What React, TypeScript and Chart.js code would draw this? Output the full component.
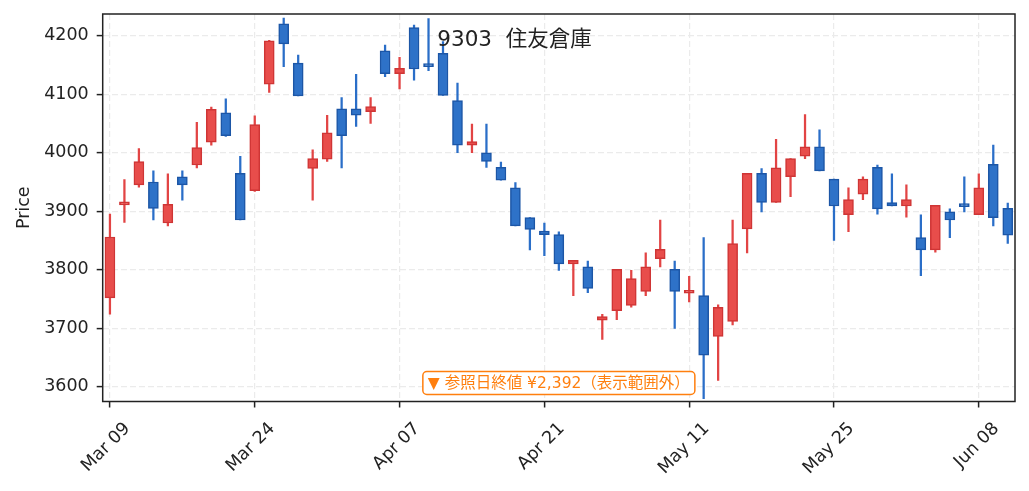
import React, { useEffect, useRef } from 'react';
import { Chart, registerables } from 'chart.js';

Chart.register(...registerables);

// trading days shown (2020, TSE calendar)
const dates = [
  'Mar 09', 'Mar 10', 'Mar 11', 'Mar 12', 'Mar 13', 'Mar 16', 'Mar 17', 'Mar 18', 'Mar 19', 'Mar 23',
  'Mar 24', 'Mar 25', 'Mar 26', 'Mar 27', 'Mar 30', 'Mar 31', 'Apr 01', 'Apr 02', 'Apr 03', 'Apr 06',
  'Apr 07', 'Apr 08', 'Apr 09', 'Apr 10', 'Apr 13', 'Apr 14', 'Apr 15', 'Apr 16', 'Apr 17', 'Apr 20',
  'Apr 21', 'Apr 22', 'Apr 23', 'Apr 24', 'Apr 27', 'Apr 28', 'Apr 30', 'May 01', 'May 07', 'May 08',
  'May 11', 'May 12', 'May 13', 'May 14', 'May 15', 'May 18', 'May 19', 'May 20', 'May 21', 'May 22',
  'May 25', 'May 26', 'May 27', 'May 28', 'May 29', 'Jun 01', 'Jun 02', 'Jun 03', 'Jun 04', 'Jun 05',
  'Jun 08', 'Jun 09', 'Jun 10',
];

const opens = [
  3752, 3911, 3945, 3950, 3880, 3959, 3979, 4018, 4068, 3965,
  3935, 4117, 4220, 4153, 3973, 3989, 4075, 4075, 4070, 4174,
  4135, 4214, 4149, 4170, 4089, 4013, 4000, 3975, 3940, 3889,
  3866, 3860, 3810, 3805, 3714, 3730, 3739, 3763, 3819, 3801,
  3760, 3756, 3686, 3712, 3870, 3965, 3915, 3959, 3994, 4010,
  3955, 3894, 3929, 3975, 3915, 3909, 3855, 3834, 3899, 3910,
  3894, 3980, 3905,
];
const highs = [
  3895, 3954, 4007, 3969, 3964, 3969, 4052, 4078, 4092, 3994,
  4063, 4192, 4230, 4167, 4005, 4064, 4094, 4134, 4094, 4184,
  4163, 4218, 4229, 4190, 4119, 4049, 4049, 3984, 3949, 3889,
  3880, 3865, 3816, 3815, 3724, 3801, 3799, 3829, 3885, 3815,
  3789, 3855, 3740, 3885, 3965, 3973, 4023, 3990, 4065, 4039,
  3955, 3940, 3959, 3979, 3964, 3945, 3894, 3910, 3904, 3959,
  3964, 4013, 3914,
];
const lows = [
  3724, 3881, 3941, 3885, 3875, 3919, 3974, 4013, 4028, 3885,
  3934, 4103, 4147, 4097, 3919, 3985, 3974, 4045, 4050, 4130,
  4109, 4124, 4140, 4098, 4000, 4000, 3975, 3953, 3875, 3834,
  3824, 3799, 3756, 3761, 3681, 3715, 3736, 3756, 3805, 3700,
  3745, 3580, 3611, 3706, 3829, 3899, 3915, 3925, 3990, 3969,
  3850, 3865, 3920, 3895, 3909, 3890, 3790, 3830, 3855, 3899,
  3894, 3875, 3845,
];
const closes = [
  3856, 3916, 3985, 3905, 3912, 3945, 4009, 4074, 4029, 3885,
  4048, 4191, 4186, 4097, 3990, 4034, 4029, 4064, 4079, 4135,
  4144, 4143, 4147, 4098, 4013, 4019, 3985, 3953, 3875, 3869,
  3860, 3810, 3816, 3768, 3720, 3801, 3785, 3805, 3835, 3763,
  3765, 3654, 3736, 3845, 3965, 3915, 3974, 3990, 4010, 3969,
  3909, 3920, 3955, 3904, 3909, 3920, 3834, 3910, 3885, 3908,
  3940, 3889, 3859,
];

const yTicks = [3600, 3700, 3800, 3900, 4000, 4100, 4200];
const titleText = '9303  住友倉庫';
const noteText = '▼ 参照日終値 ¥2,392（表示範囲外）';

const FONT = '"DejaVu Sans", "Noto Sans CJK JP", sans-serif';
const INK = '#222222';
const GRID = '#ebebeb';
const UP_FILL = '#e84d4b';
const UP_EDGE = '#cf3535';
const DOWN_FILL = '#2e72c8';
const DOWN_EDGE = '#1c56a6';
const NOTE = '#ff7f0e';

const frameAndText = {
  id: 'frameAndText',
  afterDraw(chart: Chart) {
    const { ctx, chartArea: a } = chart;
    ctx.save();
    ctx.strokeStyle = INK;
    ctx.lineWidth = 1.5;
    ctx.strokeRect(a.left, a.top, a.right - a.left, a.bottom - a.top);

    ctx.fillStyle = INK;
    ctx.font = `21.5px ${FONT}`;
    ctx.textAlign = 'center';
    ctx.textBaseline = 'middle';
    ctx.fillText(titleText, chart.width / 2, a.top + 26);

    ctx.font = `15.5px ${FONT}`;
    const w = ctx.measureText(noteText).width;
    const cx = (a.left + a.right) / 2;
    const cy = a.bottom - 18.5;
    const bw = w + 10;
    const bh = 23;
    ctx.beginPath();
    ctx.roundRect(cx - bw / 2, cy - bh / 2, bw, bh, 4);
    ctx.fillStyle = '#ffffff';
    ctx.fill();
    ctx.strokeStyle = NOTE;
    ctx.lineWidth = 1.5;
    ctx.stroke();
    ctx.fillStyle = NOTE;
    ctx.fillText(noteText, cx, cy + 0.5);
    ctx.restore();
  },
};

const App = () => {
  const canvasRef = useRef<HTMLCanvasElement | null>(null);

  useEffect(() => {
    const canvas = canvasRef.current;
    if (!canvas) return;

    const up = closes.map((c, i) => c >= opens[i]);

    const chart = new Chart(canvas, {
      type: 'bar',
      data: {
        labels: dates,
        datasets: [
          {
            label: 'body',
            data: opens.map((o, i) => [o, closes[i]]),
            backgroundColor: up.map(u => (u ? UP_FILL : DOWN_FILL)),
            borderColor: up.map(u => (u ? UP_EDGE : DOWN_EDGE)),
            borderWidth: 1.5,
            borderSkipped: false,
            barThickness: 10,
            minBarLength: 3,
            grouped: false,
            order: 1,
          },
          {
            label: 'wick',
            data: lows.map((l, i) => [l, highs[i]]),
            backgroundColor: up.map(u => (u ? '#e24444' : '#2a6ec8')),
            borderWidth: 0,
            barThickness: 1.6,
            grouped: false,
            order: 2,
          },
        ],
      },
      options: {
        responsive: false,
        animation: false,
        layout: { padding: { top: 14, right: 14, left: 0, bottom: 0 } },
        plugins: {
          legend: { display: false },
          tooltip: { enabled: false },
        },
        scales: {
          x: {
            type: 'category',
            offset: true,
            afterFit: (scale: any) => {
              scale.height = 89.5;
              scale.paddingLeft = 0;
              scale.paddingRight = 0;
            },
            grid: {
              offset: false,
              color: (c: any) => (c.index % 10 === 0 ? GRID : 'rgba(0,0,0,0)'),
              lineWidth: 1.2,
              drawTicks: true,
              tickLength: 6,
              tickWidth: 1.5,
              tickColor: (c: any) => (c.index % 10 === 0 ? INK : 'rgba(0,0,0,0)'),
            },
            border: { display: false, dash: [6, 3] },
            ticks: {
              autoSkip: false,
              minRotation: 45,
              maxRotation: 45,
              labelOffset: 17.5,
              padding: 11,
              color: INK,
              font: { family: FONT, size: 17.5 },
              callback: (_v: any, i: number) => (i % 10 === 0 ? dates[i] : ''),
            },
          },
          y: {
            min: 3575,
            max: 4237,
            afterFit: (scale: any) => {
              scale.width = 102.7;
              scale.paddingTop = 0;
              scale.paddingBottom = 0;
            },
            afterBuildTicks: (scale: any) => {
              scale.ticks = yTicks.map(v => ({ value: v }));
            },
            grid: {
              color: GRID,
              lineWidth: 1.2,
              tickLength: 6,
              tickWidth: 1.5,
              tickColor: INK,
            },
            border: { display: false, dash: [6, 3] },
            ticks: {
              padding: 8,
              color: INK,
              font: { family: FONT, size: 17.5 },
              callback: (v: any) => String(v),
            },
            title: {
              display: true,
              text: 'Price',
              color: INK,
              font: { family: FONT, size: 17.5 },
              padding: { top: 14, bottom: 0 },
            },
          },
        },
      },
      plugins: [frameAndText],
    });

    return () => {
      chart.destroy();
    };
  }, []);

  return (
    <div style={{ position: 'absolute', left: 0, top: 0, width: 1029, height: 491, background: '#fff' }}>
      <canvas ref={canvasRef} width={1029} height={491} style={{ width: 1029, height: 491 }} />
    </div>
  );
};

export default App;
